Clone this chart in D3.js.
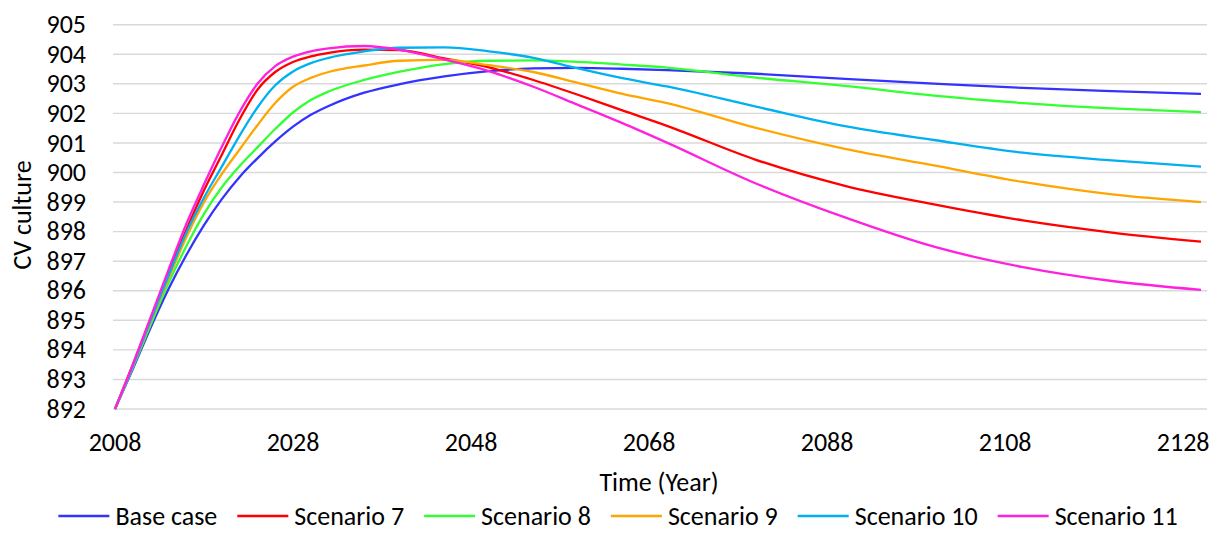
<!DOCTYPE html>
<html>
<head>
<meta charset="utf-8">
<script src="https://cdn.jsdelivr.net/npm/d3@7"></script>
<style>
  html, body { margin: 0; padding: 0; background: #fff; }
  svg { display: block; }
  text { font-family: Calibri, Carlito, Lato, sans-serif; fill: #000; }
</style>
</head>
<body>
<svg id="chart" width="1212" height="541"></svg>
<script>
// Simulation years (x positions of the points)
const years = [2008, 2010, 2012, 2014, 2016, 2018, 2020, 2022, 2024, 2026, 2028, 2030, 2032, 2036, 2040,
               2045, 2050, 2055, 2060, 2065, 2070, 2080, 2090, 2100, 2110, 2120, 2130];

// CV culture per scenario
const baseCase = [892.0, 893.35, 894.75, 896.05, 897.2, 898.22, 899.1, 899.85, 900.48, 901.05, 901.55, 901.95, 902.25, 902.7, 902.99,
                  903.25, 903.43, 903.52, 903.54, 903.51, 903.46, 903.34, 903.17, 903.01, 902.86, 902.75, 902.66];
const scenario7 = [892.0, 893.5, 895.05, 896.6, 898.05, 899.4, 900.6, 901.8, 902.8, 903.4, 903.74, 903.93, 904.05, 904.16, 904.14,
                   903.86, 903.56, 903.13, 902.63, 902.1, 901.58, 900.43, 899.55, 898.92, 898.38, 897.97, 897.66];
const scenario8 = [892.0, 893.4, 894.85, 896.25, 897.5, 898.6, 899.5, 900.22, 900.85, 901.47, 902.03, 902.45, 902.74, 903.13, 903.41,
                   903.67, 903.78, 903.79, 903.74, 903.65, 903.55, 903.21, 902.93, 902.6, 902.35, 902.17, 902.04];
const scenario9 = [892.0, 893.45, 894.95, 896.4, 897.8, 899.0, 899.95, 900.78, 901.6, 902.35, 902.9, 903.2, 903.4, 903.62, 903.78,
                   903.81, 903.63, 903.4, 903.03, 902.66, 902.35, 901.51, 900.8, 900.24, 899.68, 899.26, 899.0];
const scenario10 = [892.0, 893.45, 895.0, 896.5, 897.95, 899.15, 900.2, 901.25, 902.2, 902.95, 903.42, 903.7, 903.88, 904.1, 904.22,
                    904.23, 904.1, 903.88, 903.52, 903.19, 902.91, 902.23, 901.57, 901.1, 900.67, 900.41, 900.2];
const scenario11 = [892.0, 893.5, 895.1, 896.7, 898.25, 899.6, 900.87, 902.05, 903.0, 903.6, 903.92, 904.1, 904.2, 904.28, 904.15,
                    903.82, 903.43, 902.9, 902.29, 901.67, 901.01, 899.63, 898.48, 897.49, 896.8, 896.33, 896.03];

const seriesNames = ["Base case", "Scenario 7", "Scenario 8", "Scenario 9", "Scenario 10", "Scenario 11"];
const seriesValues = [baseCase, scenario7, scenario8, scenario9, scenario10, scenario11];
const seriesColors = ["#3333ff", "#ff0000", "#33ff33", "#ffa500", "#00b0f0", "#ff22dd"];

// Axis ticks
const xTicks = [2008, 2028, 2048, 2068, 2088, 2108, 2128];
const yTicks = [892, 893, 894, 895, 896, 897, 898, 899, 900, 901, 902, 903, 904, 905];

const svg = d3.select("#chart");
const FONT = 26;

const x = d3.scaleLinear().domain([2008, 2130]).range([115, 1201]);
const y = d3.scaleLinear().domain([892, 905]).range([409, 24.7]);
const gridLeft = 113, gridRight = 1207;

// Horizontal gridlines
svg.append("g")
  .selectAll("line")
  .data(yTicks)
  .join("line")
  .attr("x1", gridLeft).attr("x2", gridRight)
  .attr("y1", d => y(d)).attr("y2", d => y(d))
  .attr("stroke", "#d9d9d9").attr("stroke-width", 1.4);

// Y tick labels
svg.append("g")
  .selectAll("text")
  .data(yTicks)
  .join("text")
  .attr("x", 86)
  .attr("y", d => y(d) + 8.6)
  .attr("text-anchor", "end")
  .attr("font-size", FONT)
  .text(d => d);

// X tick labels
svg.append("g")
  .selectAll("text")
  .data(xTicks)
  .join("text")
  .attr("x", d => x(d))
  .attr("y", 451)
  .attr("text-anchor", "middle")
  .attr("font-size", FONT)
  .text(d => d);

// Axis titles
svg.append("text")
  .attr("x", 659).attr("y", 491)
  .attr("text-anchor", "middle")
  .attr("font-size", FONT)
  .text("Time (Year)");

svg.append("text")
  .attr("transform", "translate(30.5,215) rotate(-90)")
  .attr("text-anchor", "middle")
  .attr("font-size", FONT)
  .text("CV culture");

// Series lines
const line = d3.line()
  .x((d, i) => x(years[i]))
  .y(d => y(d))
  .curve(d3.curveMonotoneX);

svg.append("g")
  .selectAll("path")
  .data(seriesValues)
  .join("path")
  .attr("d", d => line(d))
  .attr("fill", "none")
  .attr("stroke", (d, i) => seriesColors[i])
  .attr("stroke-width", 2.3)
  .attr("stroke-linejoin", "round");

// Legend, centred below the axis title
const legend = svg.append("g");
const lineLen = 51, lineGap = 6, itemGap = 20, legendY = 516;
const items = legend.selectAll("g")
  .data(seriesNames)
  .join("g");
items.append("line")
  .attr("x1", 0).attr("x2", lineLen)
  .attr("y1", 0).attr("y2", 0)
  .attr("stroke", (d, i) => seriesColors[i])
  .attr("stroke-width", 2.3);
items.append("text")
  .attr("x", lineLen + lineGap)
  .attr("y", 8.6)
  .attr("font-size", FONT)
  .text(d => d);

const widths = [];
items.each(function () {
  const w = lineLen + lineGap + d3.select(this).select("text").node().getComputedTextLength();
  widths.push(w);
});
const total = d3.sum(widths) + itemGap * (widths.length - 1);
let start = 618 - total / 2;
items.attr("transform", (d, i) => {
  const tx = start;
  start += widths[i] + itemGap;
  return `translate(${tx},${legendY})`;
});
</script>
</body>
</html>
